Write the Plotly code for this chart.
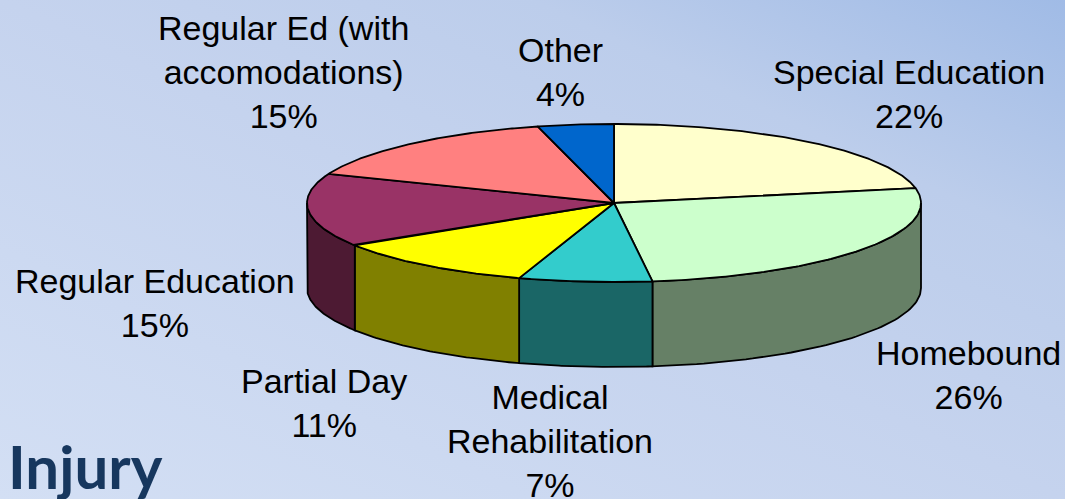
import base64
import numpy as np
import plotly.graph_objects as go

# ---- data ----
categories = ["Special Education", "Homebound", "Medical<br>Rehabilitation", "Partial Day",
              "Regular Education", "Regular Ed (with<br>accomodations)", "Other"]
values = [22, 26, 7, 11, 15, 15, 4]
top_colors = ["#FFFFCC", "#CCFFCC", "#33CCCC", "#FFFF00", "#993366", "#FF8080", "#0066CC"]
side_colors = ["#808066", "#668066", "#1A6666", "#808000", "#4D1A33", "#804040", "#003366"]
title_text = "Injury"

# ---- layout constants (pixels) ----
W, H = 1065, 499
CX, CY, RX, RY, DEPTH = 614, 203, 307, 79, 85
label_pos = [(909, 94), (968, 375), (550, 441), (324, 403), (155, 303), (283, 72), (560, 72)]
FONT = "Liberation Sans, Arial, sans-serif"

fig = go.Figure()

total = float(sum(values))
bounds = [90.0]
for v in values:
    bounds.append(bounds[-1] - 360.0 * v / total)


def arc(t0, t1, n=60, dy=0.0):
    ts = np.radians(np.linspace(t0, t1, n))
    return CX + RX * np.cos(ts), CY - RY * np.sin(ts) + dy


# side walls (front half only)
for i in range(len(values)):
    a, b = bounds[i], bounds[i + 1]  # a > b
    hi, lo = min(a, 0.0), max(b, -180.0)
    if hi <= lo:
        continue
    xt, yt = arc(hi, lo)
    xb, yb = arc(lo, hi, dy=DEPTH)
    xs = np.concatenate([xt, xb, xt[:1]])
    ys = np.concatenate([yt, yb, yt[:1]])
    fig.add_trace(go.Scatter(x=xs, y=ys, mode="lines", fill="toself",
                             fillcolor=side_colors[i], line=dict(color="black", width=1.8),
                             hoverinfo="skip", showlegend=False))

# top surfaces
for i in range(len(values)):
    a, b = bounds[i], bounds[i + 1]
    xt, yt = arc(a, b, n=120)
    xs = np.concatenate([[CX], xt, [CX]])
    ys = np.concatenate([[CY], yt, [CY]])
    fig.add_trace(go.Scatter(x=xs, y=ys, mode="lines", fill="toself",
                             fillcolor=top_colors[i], line=dict(color="black", width=1.8),
                             hoverinfo="skip", showlegend=False))

# labels
for cat, v, (lx, ly) in zip(categories, values, label_pos):
    fig.add_annotation(x=lx, y=ly, xref="x", yref="y", text=f"{cat}<br>{v}%",
                       showarrow=False, xanchor="center", yanchor="middle",
                       font=dict(family=FONT, size=34, color="black"))

fig.add_annotation(x=6, y=H, xref="x", yref="y", text=f"<b>{title_text}</b>", yshift=-5,
                   showarrow=False, xanchor="left", yanchor="bottom",
                   font=dict(family="Lato, Open Sans, sans-serif", size=60, color="#17375E"))

# gradient background
svg = f"""<svg xmlns='http://www.w3.org/2000/svg' width='{W}' height='{H}' viewBox='0 0 {W} {H}' preserveAspectRatio='none'>
<defs><linearGradient id='g' x1='0' y1='1' x2='1' y2='0'>
<stop offset='0' stop-color='#D3DFF4'/><stop offset='0.5' stop-color='#C5D3EE'/>
<stop offset='0.75' stop-color='#BCCDEB'/><stop offset='1' stop-color='#A0BBE6'/>
</linearGradient></defs><rect width='{W}' height='{H}' fill='url(#g)'/></svg>"""
src = "data:image/svg+xml;base64," + base64.b64encode(svg.encode()).decode()
fig.add_layout_image(dict(source=src, xref="paper", yref="paper", x=0, y=1, sizex=1, sizey=1,
                          sizing="stretch", xanchor="left", yanchor="top", layer="below"))

fig.update_layout(
    width=W, height=H, margin=dict(l=0, r=0, t=0, b=0),
    paper_bgcolor="#C5D3EE", plot_bgcolor="rgba(0,0,0,0)",
    xaxis=dict(range=[0, W], visible=False, fixedrange=True),
    yaxis=dict(range=[H, 0], visible=False, fixedrange=True),
)
fig.write_html("out.html", config={"displayModeBar": False},
               post_script="document.body.style.margin='0';document.body.style.overflow='hidden';")
